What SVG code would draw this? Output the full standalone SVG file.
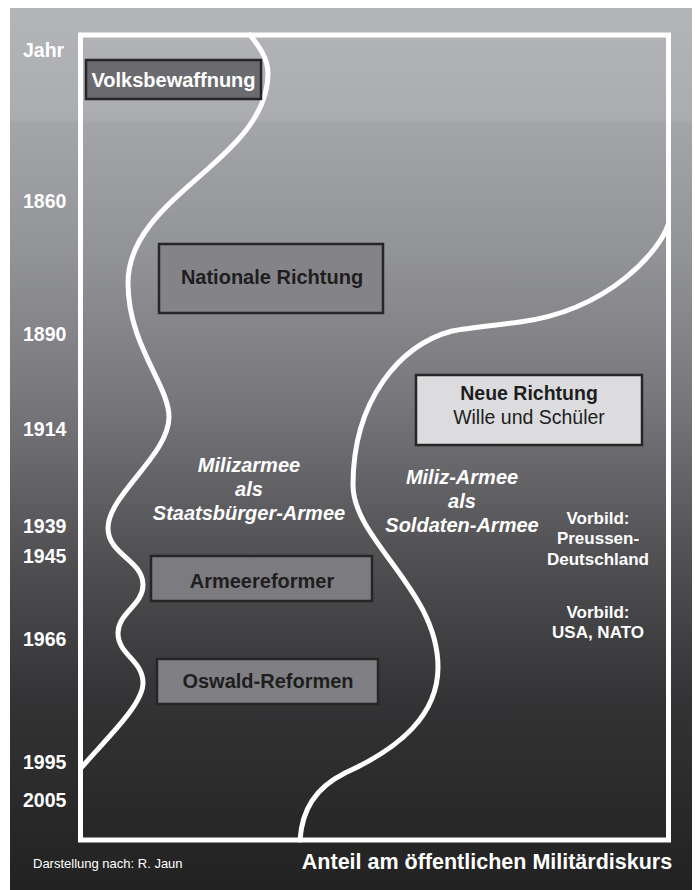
<svg xmlns="http://www.w3.org/2000/svg" width="695" height="890" viewBox="0 0 695 890">
<defs>
<linearGradient id="bg" x1="0" y1="8" x2="0" y2="890" gradientUnits="userSpaceOnUse">
<stop offset="0" stop-color="#b4b5b9"/>
<stop offset="0.127" stop-color="#abacb0"/>
<stop offset="0.13" stop-color="#a4a5a9"/>
<stop offset="0.274" stop-color="#939498"/>
<stop offset="0.444" stop-color="#78787c"/>
<stop offset="0.615" stop-color="#525255"/>
<stop offset="0.785" stop-color="#333335"/>
<stop offset="1" stop-color="#222222"/>
</linearGradient>
<style>
.yr{font-family:"Liberation Sans",Arial,sans-serif;font-weight:bold;font-size:19.5px;fill:#ffffff}
.box{stroke:#262626;stroke-width:2.5}
.bt{font-family:"Liberation Sans",Arial,sans-serif;font-weight:bold;font-size:20px;text-anchor:middle}
.it{font-family:"Liberation Sans",Arial,sans-serif;font-weight:bold;font-style:italic;font-size:20px;fill:#ffffff;text-anchor:middle}
.vb{font-family:"Liberation Sans",Arial,sans-serif;font-weight:bold;font-size:17px;fill:#ffffff;text-anchor:middle}
.curve{fill:none;stroke:#ffffff;stroke-width:5;stroke-linecap:round}
</style>
</defs>
<rect x="0" y="0" width="695" height="890" fill="#ffffff"/>
<rect x="10" y="8" width="682" height="882" fill="url(#bg)"/>
<g id="frame">
<rect x="80.5" y="35" width="588" height="805" fill="none" stroke="#ffffff" stroke-width="5"/>
</g>
<g id="years">
<text class="yr" x="23" y="57">Jahr</text>
<text class="yr" x="23" y="208">1860</text>
<text class="yr" x="23" y="341">1890</text>
<text class="yr" x="23" y="436">1914</text>
<text class="yr" x="23" y="533">1939</text>
<text class="yr" x="23" y="563">1945</text>
<text class="yr" x="23" y="646">1966</text>
<text class="yr" x="23" y="769">1995</text>
<text class="yr" x="23" y="807">2005</text>
</g>
<g id="connectors">
<path class="curve" d="M250,35 C258,45 268,58 268,73 C268,160 128,195 128,283 C128,345 169,385 169,417 C169,455 108,495 108,528 C108,555 143,560 143,585 C143,605 118,613 118,633 C118,655 143,660 143,683 C143,705 105,740 82,767"/>
<path class="curve" d="M668,225 C660,250 610,310 520,322 C490,326 470,328 452,331 C400,345 353,400 353,485 C353,540 438,590 438,667 C438,715 400,748 345,773 C315,788 302,810 300,840"/>
</g>
<g id="volksbewaffnung">
<rect class="box" x="86" y="60" width="175" height="39" fill="#6b6b6f"/>
<text class="bt" x="173.5" y="87" fill="#ffffff">Volksbewaffnung</text>
</g>
<g id="nationale-richtung">
<rect class="box" x="159" y="244" width="224" height="69" fill="#848488"/>
<text class="bt" x="272" y="284" fill="#1e1e1e">Nationale Richtung</text>
</g>
<g id="neue-richtung">
<rect class="box" x="416" y="375" width="226" height="70" fill="#dcdcde"/>
<text class="bt" x="529" y="400" fill="#1e1e1e" style="font-size:19.5px">Neue Richtung</text>
<text class="bt" x="529" y="424" fill="#1e1e1e" style="font-weight:normal;font-size:19.5px">Wille und Schüler</text>
</g>
<g id="armeereformer">
<rect class="box" x="151" y="556" width="221" height="45" fill="#7c7c80"/>
<text class="bt" x="262" y="588" fill="#1e1e1e">Armeereformer</text>
</g>
<g id="oswald-reformen">
<rect class="box" x="157" y="659" width="221" height="45" fill="#808084"/>
<text class="bt" x="268" y="688" fill="#1e1e1e">Oswald-Reformen</text>
</g>
<g id="milizarmee-staatsbuerger">
<text class="it" x="249" y="472">Milizarmee</text>
<text class="it" x="249" y="496">als</text>
<text class="it" x="249" y="520">Staatsbürger-Armee</text>
</g>
<g id="miliz-armee-soldaten">
<text class="it" x="462" y="484">Miliz-Armee</text>
<text class="it" x="462" y="508">als</text>
<text class="it" x="462" y="532">Soldaten-Armee</text>
</g>
<g id="vorbild-preussen">
<text class="vb" x="598" y="524">Vorbild:</text>
<text class="vb" x="598" y="544">Preussen-</text>
<text class="vb" x="598" y="565">Deutschland</text>
</g>
<g id="vorbild-usa">
<text class="vb" x="598" y="618">Vorbild:</text>
<text class="vb" x="598" y="638">USA, NATO</text>
</g>
<g id="footer">
<text x="33" y="868" style="font-family:'Liberation Sans',Arial,sans-serif;font-size:13px;fill:#ffffff">Darstellung nach: R. Jaun</text>
<text x="487" y="869" style="font-family:'Liberation Sans',Arial,sans-serif;font-weight:bold;font-size:21.5px;fill:#ffffff;text-anchor:middle">Anteil am öffentlichen Militärdiskurs</text>
</g>
</svg>
